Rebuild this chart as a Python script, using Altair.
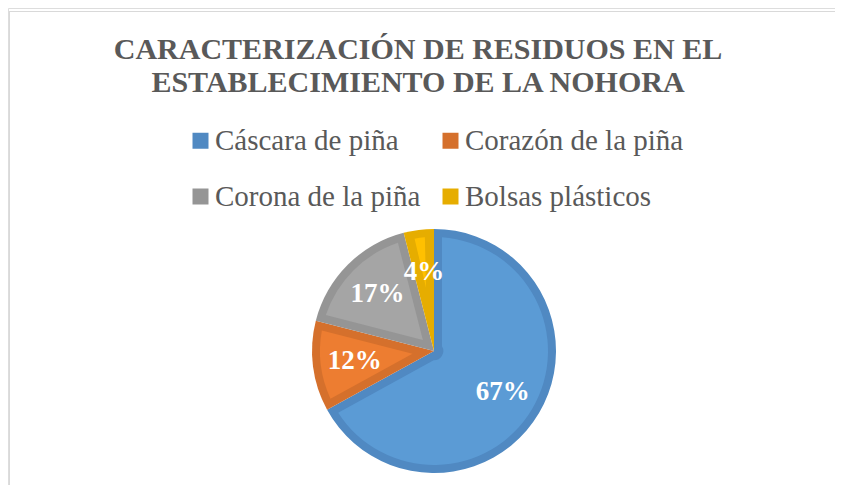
import math
import altair as alt
import pandas as pd

CATEGORIES = ["Cáscara de piña", "Corazón de la piña", "Corona de la piña", "Bolsas plásticos"]
VALUES = [67, 12, 17, 4]
LABELS = ["67%", "12%", "17%", "4%"]
TITLE_LINES = ["CARACTERIZACIÓN DE RESIDUOS EN EL", "ESTABLECIMIENTO DE LA NOHORA"]

DARK = ["#5089c2", "#d5702c", "#959595", "#e6ad00"]
LIGHT = ["#5b9bd5", "#ed7d31", "#a5a5a5", "#ffc000"]

W, H = 827, 477
CX, CY = 426, 343
R_OUT = 122
BAND = 8
R_IN = R_OUT - BAND
PAD = 2 * math.asin(BAND / 114.5)

df = pd.DataFrame({
    "cat": CATEGORIES,
    "value": VALUES,
    "label": LABELS,
    "order": list(range(len(CATEGORIES))),
    "light": LIGHT,
})
df["ri"] = [BAND / math.sin(math.pi * v / 100) for v in VALUES]
df["ro"] = R_IN

theta = alt.Theta("value:Q", stack=True)
order = alt.Order("order:Q")

outer = alt.Chart(df).mark_arc(radius=R_OUT, strokeWidth=0).encode(
    theta=theta,
    order=order,
    x=alt.value(CX),
    y=alt.value(CY),
    color=alt.Color(
        "cat:N",
        sort=CATEGORIES,
        scale=alt.Scale(domain=CATEGORIES, range=DARK),
        legend=alt.Legend(
            orient="none",
            direction="horizontal",
            legendX=178,
            legendY=118,
            columns=2,
            title=None,
            symbolType="square",
            symbolSize=256,
            symbolStrokeWidth=0,
            symbolOpacity=1,
            labelFont="Liberation Serif",
            labelFontSize=29,
            labelColor="#595959",
            labelOffset=0,
            labelLimit=500,
            rowPadding=26,
            columnPadding=15,
            padding=0,
        ),
    ),
)

inner = alt.Chart(df).mark_arc(padAngle=PAD, strokeWidth=0).encode(
    theta=theta,
    order=order,
    x=alt.value(CX),
    y=alt.value(CY),
    radius=alt.Radius("ro:Q", scale=None),
    radius2=alt.Radius2("ri:Q"),
    fill=alt.Fill("light:N", scale=None),
)

labels = alt.Chart(df).mark_text(
    radius=80,
    font="Liberation Serif",
    fontSize=27,
    fontWeight="bold",
    color="white",
    baseline="middle",
    align="center",
).encode(
    theta=theta,
    order=order,
    x=alt.value(CX),
    y=alt.value(CY),
    text="label:N",
)

title1 = alt.Chart(pd.DataFrame({"t": [TITLE_LINES[0]]})).mark_text(
    font="Liberation Serif", fontSize=30, fontWeight="bold", color="#595959",
    align="center", baseline="alphabetic",
).encode(text="t:N", x=alt.value(410), y=alt.value(51))

title2 = alt.Chart(pd.DataFrame({"t": [TITLE_LINES[1]]})).mark_text(
    font="Liberation Serif", fontSize=30, fontWeight="bold", color="#595959",
    align="center", baseline="alphabetic",
).encode(text="t:N", x=alt.value(410), y=alt.value(84))

frame_top = alt.Chart(pd.DataFrame({"a": [0]})).mark_rule(color="#d9d9d9", strokeWidth=1).encode(
    x=alt.value(1), x2=alt.value(W), y=alt.value(3.5)
)
frame_left = alt.Chart(pd.DataFrame({"a": [0]})).mark_rule(color="#d9d9d9", strokeWidth=1).encode(
    x=alt.value(1.5), y=alt.value(3), y2=alt.value(H)
)

chart = alt.layer(
    frame_top, frame_left, outer, inner, labels, title1, title2
).properties(
    width=W,
    height=H,
    autosize=alt.AutoSizeParams(type="none"),
    padding=0,
).configure_view(stroke=None).configure(background="white")

chart.save("out.html", embed_options={"renderer": "svg", "actions": False})
